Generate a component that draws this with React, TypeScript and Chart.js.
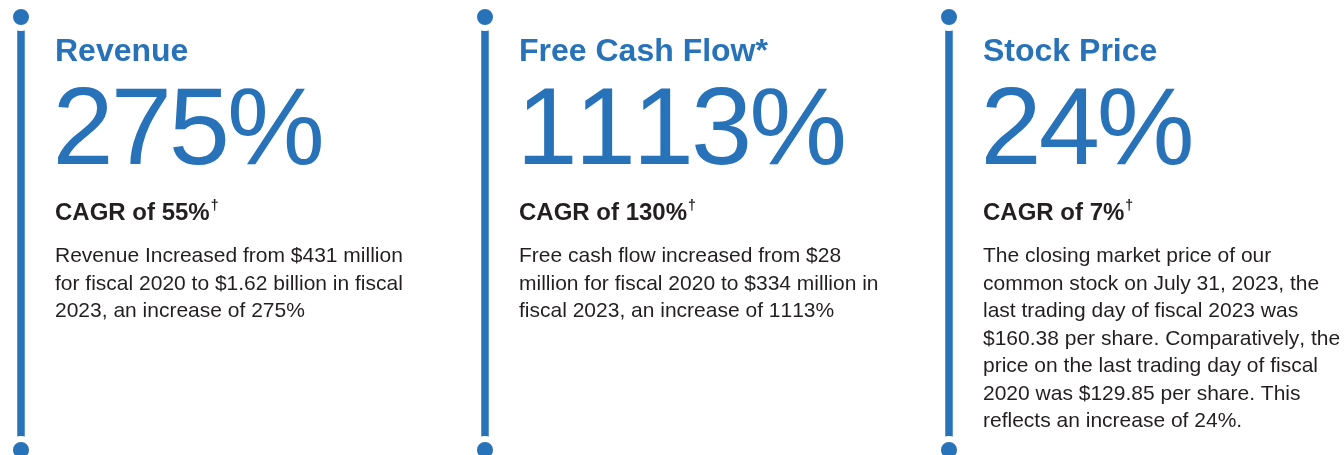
import React, { useEffect, useRef } from "react";
import { Chart, registerables } from "chart.js";

Chart.register(...registerables);

// ---- Data ----
const columns = [0, 1, 2];
const titles = ["Revenue", "Free Cash Flow*", "Stock Price"];
const growth = ["275%", "1113%", "24%"];
const cagr = ["CAGR of 55%", "CAGR of 130%", "CAGR of 7%"];
const descriptions = [
  [
    "Revenue Increased from $431 million",
    "for fiscal 2020 to $1.62 billion in fiscal",
    "2023, an increase of 275%",
  ],
  [
    "Free cash flow increased from $28",
    "million for fiscal 2020 to $334 million in",
    "fiscal 2023, an increase of 1113%",
  ],
  [
    "The closing market price of our",
    "common stock on July 31, 2023, the",
    "last trading day of fiscal 2023 was",
    "$160.38 per share. Comparatively, the",
    "price on the last trading day of fiscal",
    "2020 was $129.85 per share. This",
    "reflects an increase of 24%.",
  ],
];

const BLUE = "#2872b9";
const DARK = "#231f20";
const FONT = '"Liberation Sans", Arial, Helvetica, sans-serif';
const W = 1344;
const H = 455;
const textLeft = [55, 519, 983];

export default function App() {
  const ref = useRef<HTMLCanvasElement | null>(null);

  useEffect(() => {
    document.body.style.margin = "0";
    const canvas = ref.current;
    if (!canvas) return;
    const chart = new Chart(canvas, {
      type: "line",
      data: {
        datasets: columns.map((c) => ({
          label: titles[c],
          data: [
            { x: c, y: 1 },
            { x: c, y: 0 },
          ],
          borderColor: BLUE,
          borderWidth: 7.5,
          borderCapStyle: "butt" as const,
          pointRadius: 11,
          pointBorderWidth: 6,
          pointBorderColor: "#ffffff",
          pointBackgroundColor: BLUE,
          clip: false as any,
        })),
      },
      options: {
        responsive: false,
        animation: false,
        events: [],
        layout: { autoPadding: false, padding: { top: 17, bottom: 5, left: 0, right: 0 } } as any,
        plugins: { legend: { display: false }, tooltip: { enabled: false } },
        scales: {
          x: { type: "linear", display: false, min: -21 / 464, max: (W - 21) / 464 },
          y: { type: "linear", display: false, min: 0, max: 1 },
        },
      },
    });
    return () => chart.destroy();
  }, []);

  const base: React.CSSProperties = {
    position: "absolute",
    fontFamily: FONT,
    whiteSpace: "nowrap",
    fontKerning: "none",
  };

  return (
    <div style={{ position: "relative", width: W, height: H, overflow: "hidden", background: "#fff" }}>
      <canvas ref={ref} width={W} height={H} style={{ position: "absolute", left: 0, top: 0, width: W, height: H }} />
      {columns.map((c) => (
        <React.Fragment key={c}>
          <div
            style={{
              ...base,
              left: textLeft[c],
              top: 34,
              fontWeight: "bold",
              fontSize: 32,
              lineHeight: "32px",
              color: BLUE,
            }}
          >
            {titles[c]}
          </div>
          <div
            style={{
              ...base,
              left: textLeft[c] - 2.5,
              top: 70.5,
              fontSize: 110,
              lineHeight: "110px",
              letterSpacing: "-3px",
              color: BLUE,
            }}
          >
            {growth[c]}
          </div>
          <div
            style={{
              ...base,
              left: textLeft[c],
              top: 200,
              fontWeight: "bold",
              fontSize: 24,
              lineHeight: "24px",
              color: DARK,
            }}
          >
            {cagr[c]}
            <span style={{ fontSize: 14, position: "relative", top: -10, marginLeft: 1 }}>†</span>
          </div>
          <div
            style={{
              ...base,
              left: textLeft[c],
              top: 241,
              fontSize: 21,
              lineHeight: "27.5px",
              color: DARK,
            }}
          >
            {descriptions[c].map((line, i) => (
              <div key={i}>{line}</div>
            ))}
          </div>
        </React.Fragment>
      ))}
    </div>
  );
}
